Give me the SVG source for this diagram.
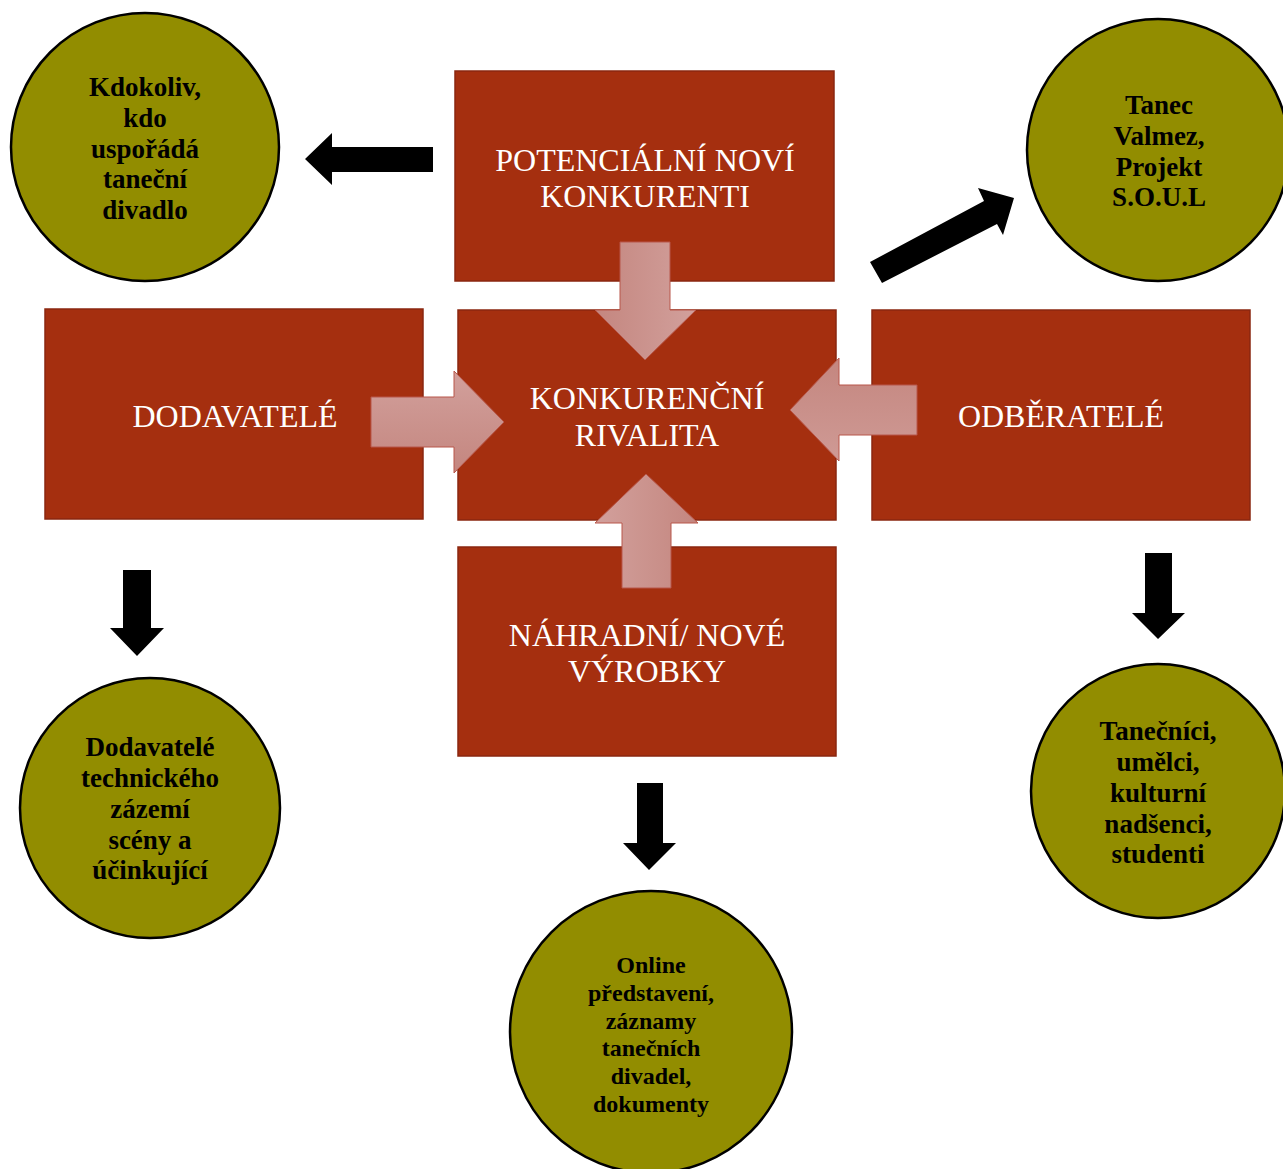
<svg xmlns="http://www.w3.org/2000/svg" width="1283" height="1169" viewBox="0 0 1283 1169">
<defs>
<style>
.box{fill:#a52f0f;stroke:#8a2710;stroke-width:1.5}
.btxt{font-family:"Liberation Serif","Times New Roman",serif;font-size:32px;fill:#ffffff;text-anchor:middle}
.circ{fill:#928d00;stroke:#000000;stroke-width:2.5}
.ctxt{font-family:"Liberation Serif","Times New Roman",serif;font-size:27px;font-weight:bold;fill:#000000;text-anchor:middle}
.ctxt2{font-family:"Liberation Serif","Times New Roman",serif;font-size:24px;font-weight:bold;fill:#000000;text-anchor:middle}
.blk{fill:#000000}
.pink{stroke:#b8574a;stroke-width:1}
</style>
<linearGradient id="gH" x1="0" y1="0" x2="1" y2="0"><stop offset="0" stop-color="#c4867f"/><stop offset="1" stop-color="#d2a09c"/></linearGradient>
<linearGradient id="gHr" x1="0" y1="0" x2="1" y2="0"><stop offset="0" stop-color="#d2a09c"/><stop offset="1" stop-color="#c4867f"/></linearGradient>
<linearGradient id="gV" x1="0" y1="0" x2="0" y2="1"><stop offset="0" stop-color="#d2a09c"/><stop offset="1" stop-color="#c4867f"/></linearGradient>
<linearGradient id="gVr" x1="0" y1="0" x2="0" y2="1"><stop offset="0" stop-color="#c4867f"/><stop offset="1" stop-color="#cf9a95"/></linearGradient>
</defs>
<rect width="1283" height="1169" fill="#ffffff"/>

<g id="box-potencialni">
<rect class="box" x="455" y="71" width="379" height="210"/>
<text class="btxt" x="645" y="171">POTENCIÁLNÍ NOVÍ</text>
<text class="btxt" x="645" y="207">KONKURENTI</text>
</g>
<g id="box-dodavatele">
<rect class="box" x="45" y="309" width="378" height="210"/>
<text class="btxt" x="235" y="427">DODAVATELÉ</text>
</g>
<g id="box-rivalita">
<rect class="box" x="458" y="310" width="378" height="210"/>
<text class="btxt" x="647" y="409">KONKURENČNÍ</text>
<text class="btxt" x="647" y="446">RIVALITA</text>
</g>
<g id="box-odberatele">
<rect class="box" x="872" y="310" width="378" height="210"/>
<text class="btxt" x="1061" y="427">ODBĚRATELÉ</text>
</g>
<g id="box-nahradni">
<rect class="box" x="458" y="547" width="378" height="209"/>
<text class="btxt" x="647" y="646">NÁHRADNÍ/ NOVÉ</text>
<text class="btxt" x="647" y="682">VÝROBKY</text>
</g>

<g id="circle-kdokoliv">
<circle class="circ" cx="145" cy="147" r="134"/>
<text class="ctxt" x="145" y="96">Kdokoliv,</text>
<text class="ctxt" x="145" y="127">kdo</text>
<text class="ctxt" x="145" y="158">uspořádá</text>
<text class="ctxt" x="145" y="188">taneční</text>
<text class="ctxt" x="145" y="219">divadlo</text>
</g>
<g id="circle-tanec">
<circle class="circ" cx="1158" cy="150" r="131"/>
<text class="ctxt" x="1159" y="114">Tanec</text>
<text class="ctxt" x="1159" y="145">Valmez,</text>
<text class="ctxt" x="1159" y="176">Projekt</text>
<text class="ctxt" x="1159" y="206">S.O.U.L</text>
</g>
<g id="circle-dodavatele">
<circle class="circ" cx="150" cy="808" r="130"/>
<text class="ctxt" x="150" y="756">Dodavatelé</text>
<text class="ctxt" x="150" y="787">technického</text>
<text class="ctxt" x="150" y="818">zázemí</text>
<text class="ctxt" x="150" y="849">scény a</text>
<text class="ctxt" x="150" y="879">účinkující</text>
</g>
<g id="circle-online">
<circle class="circ" cx="651" cy="1032" r="141"/>
<text class="ctxt2" x="651" y="973">Online</text>
<text class="ctxt2" x="651" y="1001">představení,</text>
<text class="ctxt2" x="651" y="1029">záznamy</text>
<text class="ctxt2" x="651" y="1056">tanečních</text>
<text class="ctxt2" x="651" y="1084">divadel,</text>
<text class="ctxt2" x="651" y="1112">dokumenty</text>
</g>
<g id="circle-tanecnici">
<circle class="circ" cx="1158" cy="791" r="127"/>
<text class="ctxt" x="1158" y="740">Tanečníci,</text>
<text class="ctxt" x="1158" y="771">umělci,</text>
<text class="ctxt" x="1158" y="802">kulturní</text>
<text class="ctxt" x="1158" y="833">nadšenci,</text>
<text class="ctxt" x="1158" y="863">studenti</text>
</g>

<g id="connectors">
<polygon class="pink" fill="url(#gH)" points="620,242 670,242 670,310 696,310 645,360 595,310 620,310"/>
<polygon class="pink" fill="url(#gV)" points="371,397 454,397 454,371 504,422 454,473 454,447 371,447"/>
<polygon class="pink" fill="url(#gVr)" points="917,385 839,385 839,358 790,410 839,461 839,435 917,435"/>
<polygon class="pink" fill="url(#gHr)" points="622,588 671,588 671,523 698,523 646,474 595,523 622,523"/>
<polygon class="blk" points="433,147 332,147 332,133 305,159 332,185 332,172 433,172"/>
<polygon class="blk" points="870,262 984,201 978,188 1014,198 1003,235 997,224 882,283"/>
<polygon class="blk" points="123,570 151,570 151,628 164,628 137,656 110,628 123,628"/>
<polygon class="blk" points="637,783 663,783 663,843 676,843 649,870 623,843 637,843"/>
<polygon class="blk" points="1145,553 1172,553 1172,613 1185,613 1158,639 1132,613 1145,613"/>
</g>
</svg>
